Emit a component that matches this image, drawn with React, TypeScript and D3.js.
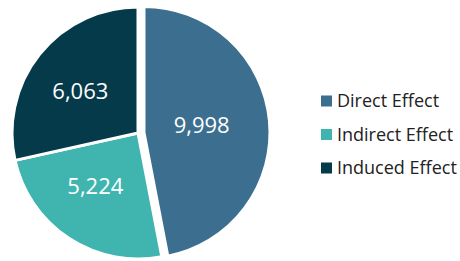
import React from 'react';
import * as d3 from 'd3';

// chart values
const categories = ['Direct Effect', 'Indirect Effect', 'Induced Effect'];
const values = [9998, 5224, 6063];
const colors = ['#3c6f8f', '#40b4ae', '#053a4b'];

const W = 460;
const H = 261;
const cx = 138;
const cy = 133;
const radius = 126;
const explode = 6; // the first slice is pulled out a little

const App = () => {
  const pie = d3.pie<number>().sort(null).value((d) => d)(values);

  const arc = d3.arc<d3.PieArcDatum<number>>().innerRadius(0).outerRadius(radius);
  const labelArc = d3.arc<d3.PieArcDatum<number>>().innerRadius(65).outerRadius(65);

  const fmt = d3.format(',');

  // legend rows
  const legendY = d3.scalePoint<string>().domain(categories).range([101, 168]);

  return (
    <svg
      width={W}
      height={H}
      style={{ position: 'absolute', left: 0, top: 0, fontFamily: '"Open Sans", sans-serif' }}
    >
      <rect width={W} height={H} fill="#fff" />
      <g transform={`translate(${cx},${cy})`}>
        {pie.map((d, i) => {
          const mid = (d.startAngle + d.endAngle) / 2;
          const off = i === 0 ? explode : 0;
          const dx = Math.sin(mid) * off;
          const dy = -Math.cos(mid) * off;
          return (
            <g key={categories[i]} transform={`translate(${dx},${dy})`}>
              <path d={arc(d) ?? ''} fill={colors[i]} stroke="#fff" strokeWidth={3} strokeLinejoin="round" />
            </g>
          );
        })}
        {pie.map((d, i) => {
          const mid = (d.startAngle + d.endAngle) / 2;
          const off = i === 0 ? explode : 0;
          const [lx, ly] = labelArc.centroid(d);
          return (
            <text
              key={'l' + i}
              x={lx + Math.sin(mid) * off - 7}
              y={ly - Math.cos(mid) * off - 1}
              dy="0.35em"
              textAnchor="middle"
              fill="#fff"
              fontSize={22}
            >
              {fmt(values[i])}
            </text>
          );
        })}
      </g>
      <g>
        {categories.map((c, i) => (
          <g key={c} transform={`translate(321,${legendY(c)})`}>
            <rect x={0} y={-5.5} width={11} height={11} fill={colors[i]} />
            <text x={16} y={0} dy="0.36em" fontSize={18} fill="#222">
              {c}
            </text>
          </g>
        ))}
      </g>
    </svg>
  );
};

export default App;
